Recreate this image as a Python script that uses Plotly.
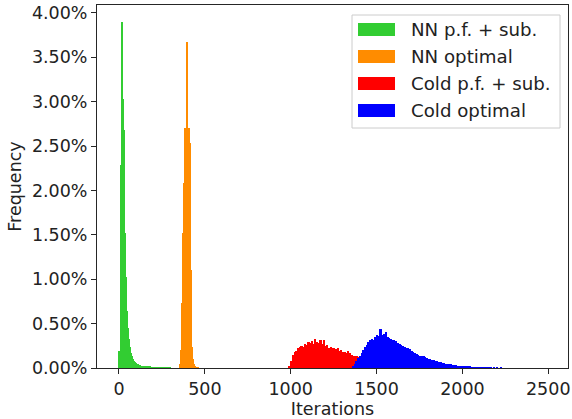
import numpy as np
import plotly.graph_objects as go

# ---------------- data (frequency in %, per histogram bin) ----------------
series_names = ["NN p.f. + sub.", "NN optimal", "Cold p.f. + sub.", "Cold optimal"]
series_colors = ["#32CD32", "#FF8C00", "#FF0000", "#0000FF"]

nn_pf_start, nn_pf_width = 0, 6
nn_pf_freq = [0.19, 2.29, 3.90, 3.03, 2.68, 1.52, 1.03, 0.64, 0.45, 0.33,
              0.24, 0.17, 0.13, 0.10, 0.08, 0.065, 0.055, 0.045, 0.04, 0.035,
              0.03, 0.028, 0.025, 0.022, 0.02, 0.02, 0.018, 0.016, 0.015, 0.014,
              0.012, 0.01, 0.01, 0.009, 0.008, 0.008, 0.007, 0.006, 0.006, 0.005,
              0.005, 0.004, 0.005, 0.003, 0.004, 0.002, 0.003, 0.002, 0.002, 0.001]

nn_opt_start, nn_opt_width = 354, 6
nn_opt_freq = [0.05, 0.20, 0.73, 1.52, 2.08, 2.70, 2.70, 3.67, 2.70, 2.53,
               1.10, 0.24, 0.10, 0.04, 0.02, 0.01, 0.01, 0.005]

cold_pf_start, cold_pf_width = 990, 10
cold_pf_freq = [0.02, 0.08, 0.15, 0.18, 0.19, 0.22, 0.24, 0.25, 0.24, 0.27,
                0.26, 0.29, 0.28, 0.30, 0.27, 0.33, 0.29, 0.28, 0.32, 0.27,
                0.31, 0.25, 0.26, 0.23, 0.24, 0.22, 0.23, 0.21, 0.22, 0.19,
                0.20, 0.18, 0.18, 0.17, 0.19, 0.17, 0.15, 0.14, 0.14, 0.13,
                0.12, 0.11, 0.10, 0.07, 0.05, 0.03, 0.01]

cold_opt_start, cold_opt_width = 1360, 10
cold_opt_freq = [0.02, 0.05, 0.08, 0.11, 0.13, 0.17, 0.20, 0.24, 0.26, 0.29,
                 0.31, 0.33, 0.32, 0.35, 0.37, 0.36, 0.44, 0.37, 0.38, 0.41,
                 0.35, 0.34, 0.33, 0.31, 0.32, 0.30, 0.28, 0.27, 0.26, 0.25,
                 0.24, 0.23, 0.22, 0.21, 0.19, 0.18, 0.17, 0.16, 0.15, 0.14,
                 0.14, 0.13, 0.12, 0.11, 0.10, 0.10, 0.09, 0.09, 0.08, 0.075,
                 0.07, 0.065, 0.06, 0.055, 0.05, 0.045, 0.04, 0.04, 0.035, 0.03,
                 0.03, 0.025, 0.025, 0.02, 0.02, 0.018, 0.015, 0.013, 0.012, 0.01,
                 0.01, 0.008, 0.007, 0.006, 0.005, 0.005, 0.004, 0.003, 0.003, 0.002,
                 0.002, 0.0, 0.002, 0.0, 0.002, 0.0, 0.002]

x_ticks = [0, 500, 1000, 1500, 2000, 2500]
y_ticks = [0, 0.5, 1.0, 1.5, 2.0, 2.5, 3.0, 3.5, 4.0]
x_label = "Iterations"
y_label = "Frequency"

# ---------------- figure ----------------
W, H = 572, 419
ML, MR, MT, MB = 97, 4, 5, 51
FONT = "DejaVu Sans"
FS = 17.5
FS_LEG = 18.2
TXT = "#222222"

fig = go.Figure()
hist_specs = [
    (nn_pf_start, nn_pf_width, nn_pf_freq),
    (nn_opt_start, nn_opt_width, nn_opt_freq),
    (cold_pf_start, cold_pf_width, cold_pf_freq),
    (cold_opt_start, cold_opt_width, cold_opt_freq),
]
for (start, bw, freq), name, col in zip(hist_specs, series_names, series_colors):
    lefts = start + bw * np.arange(len(freq))
    fig.add_trace(go.Bar(
        x=lefts, y=freq, width=bw, offset=0, name=name,
        marker=dict(color=col, line=dict(width=0)),
        showlegend=False,
    ))

fig.update_layout(
    width=W, height=H,
    margin=dict(l=ML, r=MR, t=MT, b=MB, autoexpand=False),
    paper_bgcolor="white", plot_bgcolor="white",
    barmode="overlay", bargap=0,
    font=dict(family=FONT, size=FS, color=TXT),
)
fig.update_xaxes(
    range=[-128, 2615], tickvals=x_ticks, ticktext=[str(v) for v in x_ticks],
    showgrid=False, zeroline=False, automargin=False,
    showline=True, linecolor="#262626", linewidth=1, mirror=True,
    ticks="outside", ticklen=5, tickwidth=1, tickcolor="#262626",
    title=dict(text=x_label, standoff=4, font=dict(size=FS)),
)
fig.update_yaxes(
    range=[0, 4.09], tickvals=y_ticks, ticktext=[f"{v:.2f}%" for v in y_ticks],
    showgrid=False, zeroline=False, automargin=False,
    showline=True, linecolor="#262626", linewidth=1, mirror=True,
    ticks="outside", ticklen=5, tickwidth=1, tickcolor="#262626",
    title=dict(text=y_label, standoff=5, font=dict(size=FS)),
)

# ---------------- legend (drawn like matplotlib's) ----------------
pw, ph = W - ML - MR, H - MT - MB
def px(x):
    return (x - ML) / pw
def py(y):
    return (H - MB - y) / ph

fig.add_shape(type="rect", xref="paper", yref="paper",
              x0=px(352), x1=px(560), y0=py(128), y1=py(15),
              line=dict(color="#cccccc", width=1), fillcolor="rgba(255,255,255,0.8)",
              layer="above")
row_y = [29.5, 56.5, 83.5, 110.5]
for name, col, ry in zip(series_names, series_colors, row_y):
    fig.add_shape(type="rect", xref="paper", yref="paper",
                  x0=px(358), x1=px(395), y0=py(ry + 6.5), y1=py(ry - 6.5),
                  line=dict(width=0), fillcolor=col, layer="above")
    fig.add_annotation(xref="paper", yref="paper", x=px(408.5), y=py(ry),
                       text=name, showarrow=False, xanchor="left", yanchor="middle",
                       font=dict(family=FONT, size=FS_LEG, color=TXT))

fig.write_html(
    "out.html",
    config={"displayModeBar": False},
    post_script="document.body.style.margin='0';document.body.style.overflow='hidden';",
)
